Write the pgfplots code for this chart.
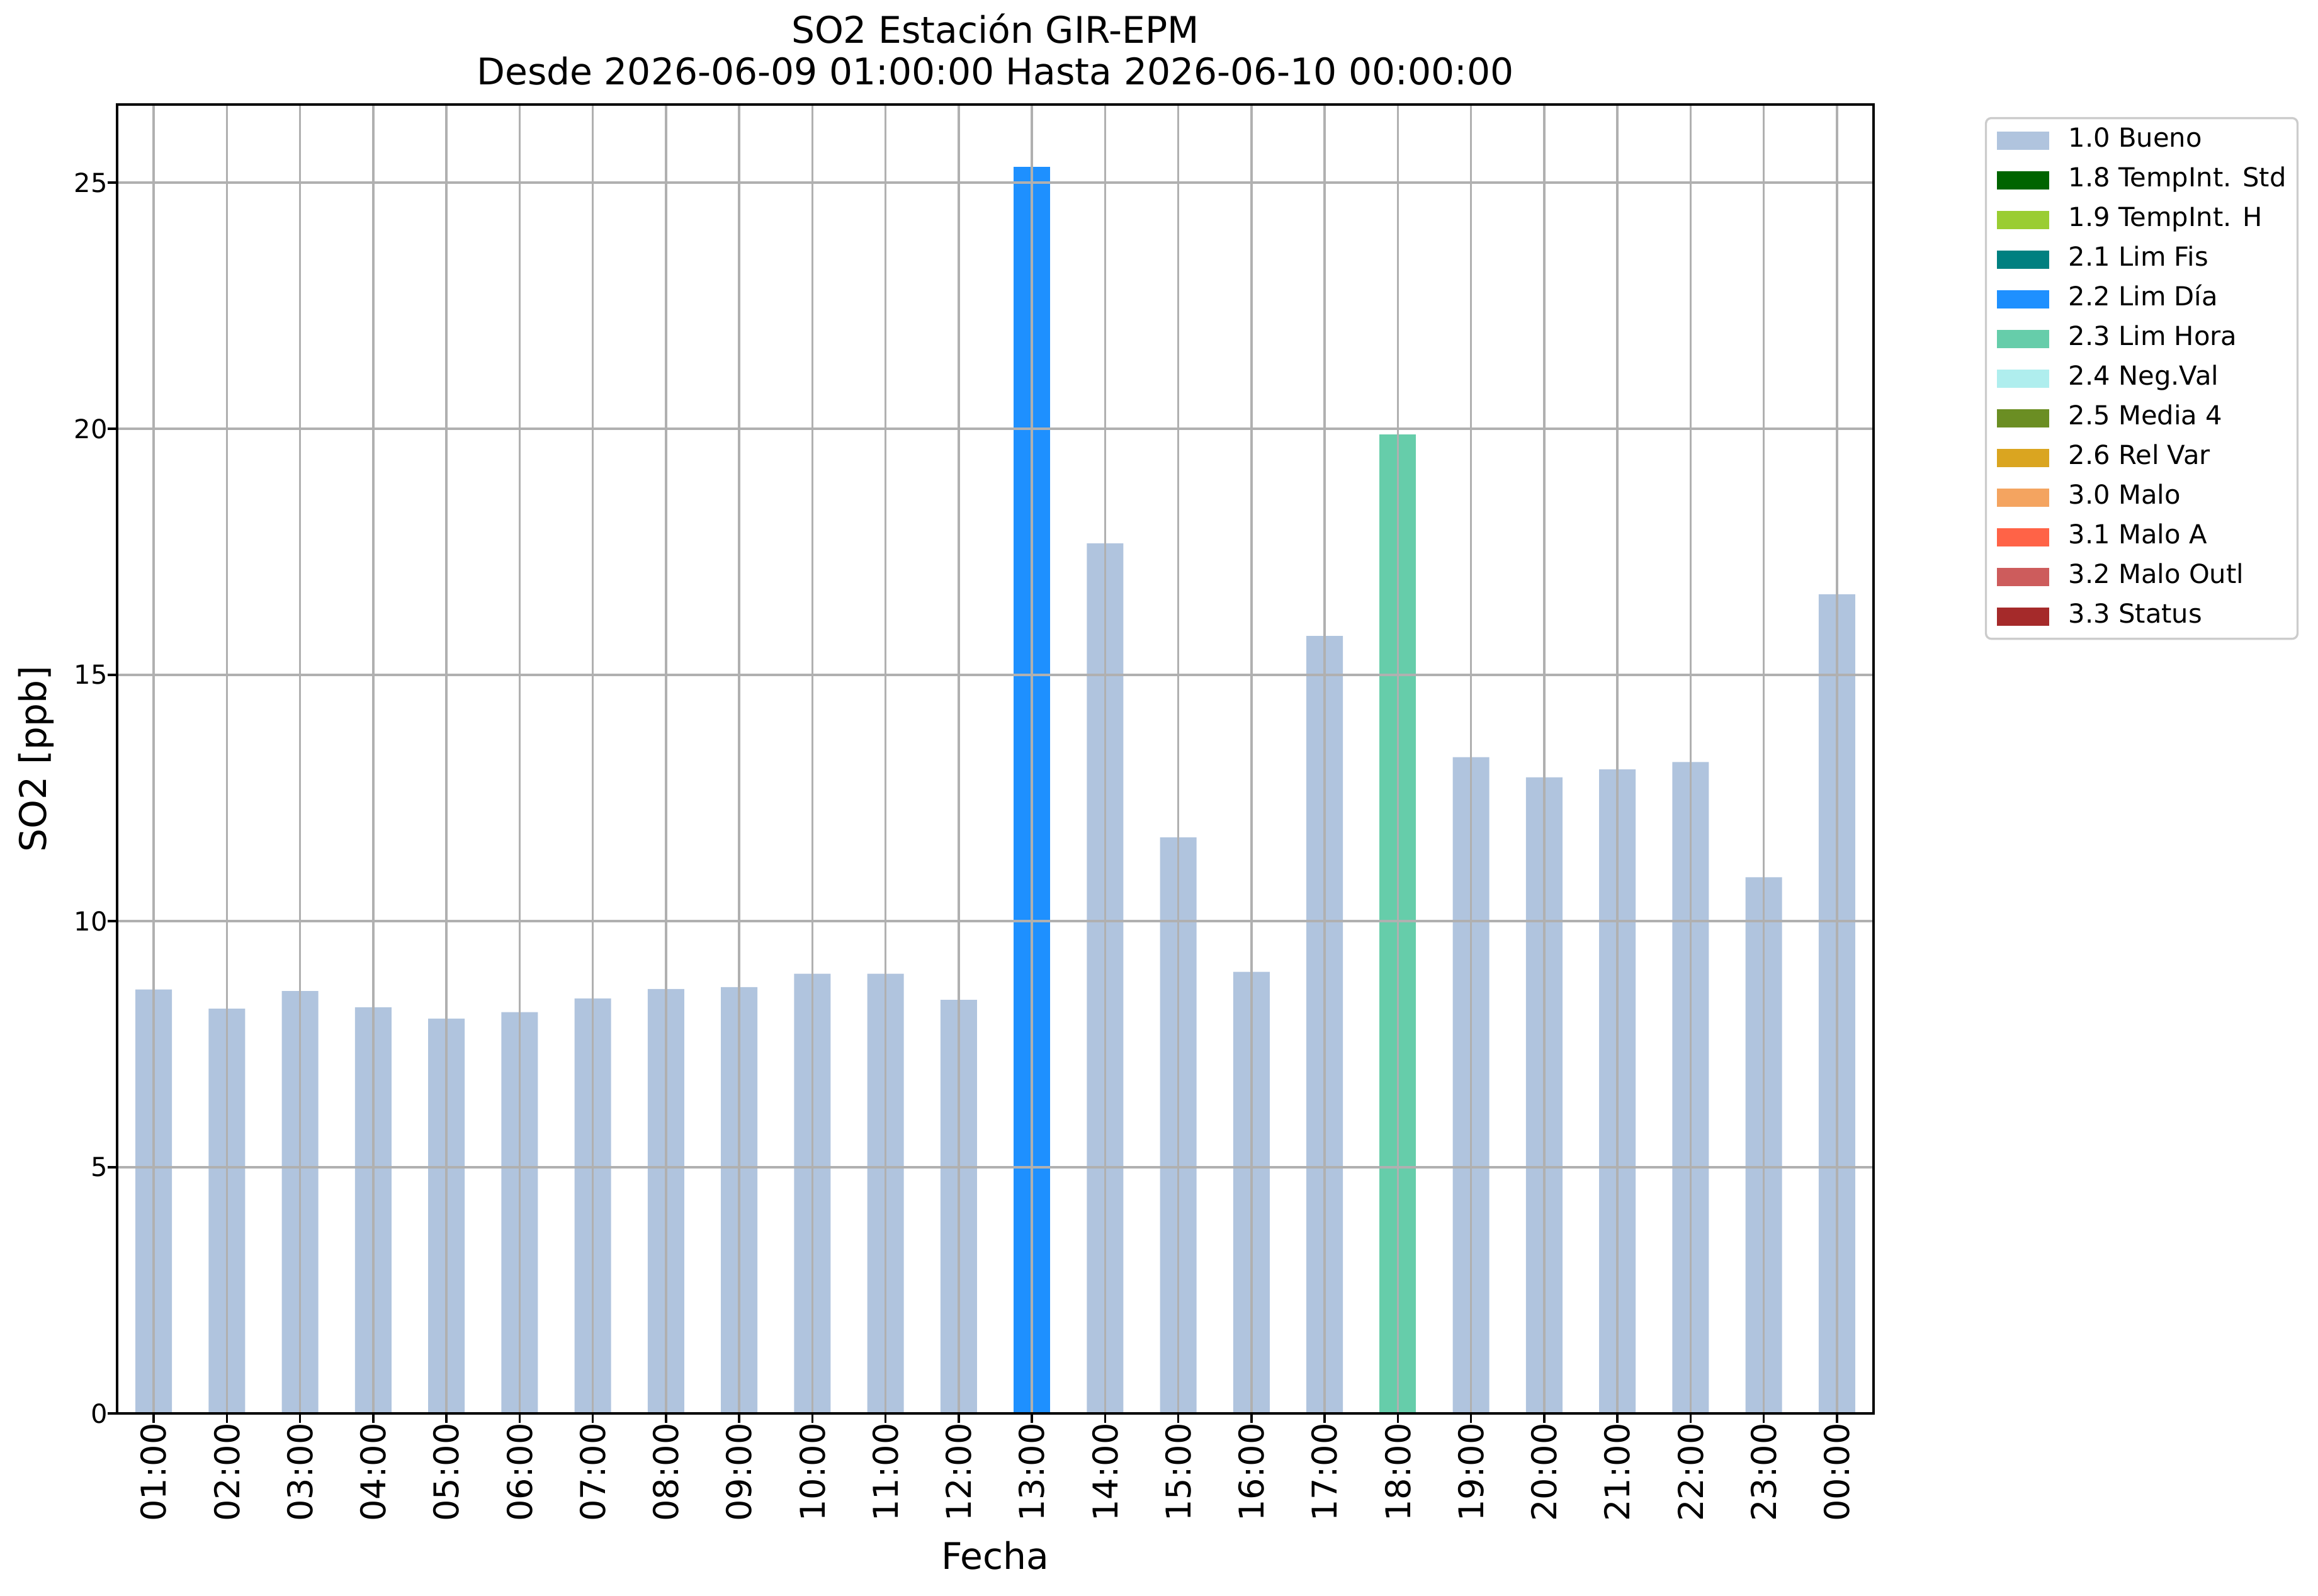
\documentclass[border=0pt]{standalone}
\usepackage{pgfplots}
\pgfplotsset{compat=1.18}
\usepackage{fontspec}
\setmainfont{DejaVu Sans}
\definecolor{bueno}{HTML}{B0C4DE}
\definecolor{tstd}{HTML}{006400}
\definecolor{th}{HTML}{9ACD32}
\definecolor{limfis}{HTML}{008080}
\definecolor{limdia}{HTML}{1E90FF}
\definecolor{limhora}{HTML}{66CDAA}
\definecolor{negval}{HTML}{AFEEEE}
\definecolor{media}{HTML}{6B8E23}
\definecolor{relvar}{HTML}{DAA520}
\definecolor{malo}{HTML}{F4A460}
\definecolor{maloa}{HTML}{FF6347}
\definecolor{maloout}{HTML}{CD5C5C}
\definecolor{status}{HTML}{A52A2A}
\definecolor{gridc}{HTML}{B0B0B0}
\definecolor{legc}{HTML}{CCCCCC}
\newcommand\xl[1]{{\fontsize{13}{15}\selectfont #1}}
\pgfplotsset{swatch/.style={legend image code/.code={\fill[##1,draw=none,sharp corners] (0pt,-3.5pt) rectangle (19.7pt,3.5pt);}}}
\begin{document}
\begin{tikzpicture}
\begin{axis}[
  at={(0,0)}, anchor=south west,
  scale only axis,
  width=669.6pt, height=498.96pt,
  xmin=-0.5, xmax=23.5, ymin=0, ymax=26.586,
  xtick={0,...,23},
  xticklabels={\xl{01:00},\xl{02:00},\xl{03:00},\xl{04:00},\xl{05:00},\xl{06:00},\xl{07:00},\xl{08:00},\xl{09:00},\xl{10:00},\xl{11:00},\xl{12:00},\xl{13:00},\xl{14:00},\xl{15:00},\xl{16:00},\xl{17:00},\xl{18:00},\xl{19:00},\xl{20:00},\xl{21:00},\xl{22:00},\xl{23:00},\xl{00:00}},
  ytick={0,5,10,15,20,25},
  /pgf/number format/assume math mode=true,
  xtick pos=bottom, ytick pos=left,
  tick align=outside,
  major tick length=3.5pt,
  every tick/.style={black, line width=0.8pt},
  axis line style={black, line width=0.8pt},
  grid=major,
  major grid style={gridc, line width=0.8pt},
  axis on top,
  xticklabel style={font=\fontsize{13}{15}\selectfont, rotate=90, anchor=east, inner sep=0pt},
  yticklabel style={font=\fontsize{10}{12}\selectfont, anchor=east, inner sep=0pt},
  title={SO2 Estación GIR-EPM\\Desde 2026-06-09 01:00:00 Hasta 2026-06-10 00:00:00},
  title style={font=\fontsize{14}{15.8}\selectfont, align=center, at={(axis description cs:0.5,1)}, anchor=south, inner sep=0pt, yshift=1.1pt},
  xlabel={Fecha},
  xlabel style={font=\fontsize{14}{16.8}\selectfont, at={(axis description cs:0.5,0)}, anchor=base, inner sep=0pt, yshift=-59.3pt},
  ylabel={SO2 [ppb]},
  ylabel style={font=\fontsize{14}{16.8}\selectfont, at={(axis description cs:-0.0405,0.5)}, anchor=base, rotate=0, inner sep=0pt},
  legend style={at={(axis description cs:1.0634,0.9904)}, anchor=north west,
    draw=legc, line width=0.8pt, rounded corners=2pt,
    inner xsep=4.3pt, inner ysep=3.77pt,
    font=\fontsize{10}{12}\selectfont,
    row sep=5.62pt, column sep=7.5pt,
    nodes={inner sep=0pt, text height=7.3pt, text depth=2.2pt}},
  legend cell align=left,
]
\addlegendimage{swatch, fill=bueno}\addlegendentry{1.0 Bueno}
\addlegendimage{swatch, fill=tstd}\addlegendentry{1.8 TempInt. Std}
\addlegendimage{swatch, fill=th}\addlegendentry{1.9 TempInt. H}
\addlegendimage{swatch, fill=limfis}\addlegendentry{2.1 Lim Fis}
\addlegendimage{swatch, fill=limdia}\addlegendentry{2.2 Lim Día}
\addlegendimage{swatch, fill=limhora}\addlegendentry{2.3 Lim Hora}
\addlegendimage{swatch, fill=negval}\addlegendentry{2.4 Neg.Val}
\addlegendimage{swatch, fill=media}\addlegendentry{2.5 Media 4}
\addlegendimage{swatch, fill=relvar}\addlegendentry{2.6 Rel Var}
\addlegendimage{swatch, fill=malo}\addlegendentry{3.0 Malo}
\addlegendimage{swatch, fill=maloa}\addlegendentry{3.1 Malo A}
\addlegendimage{swatch, fill=maloout}\addlegendentry{3.2 Malo Outl}
\addlegendimage{swatch, fill=status}\addlegendentry{3.3 Status}
\addplot[ybar, bar width=0.5, bar shift=0pt, fill=bueno, draw=none, forget plot] coordinates {
(0,8.61) (1,8.22) (2,8.58) (3,8.25) (4,8.02) (5,8.15) (6,8.43) (7,8.62) (8,8.66) (9,8.93) (10,8.93) (11,8.40)
(13,17.67) (14,11.70) (15,8.97) (16,15.79) (18,13.33) (19,12.92) (20,13.08) (21,13.23) (22,10.89) (23,16.64)};
\addplot[ybar, bar width=0.5, bar shift=0pt, fill=limdia, draw=none, forget plot] coordinates {(12,25.32)};
\addplot[ybar, bar width=0.5, bar shift=0pt, fill=limhora, draw=none, forget plot] coordinates {(17,19.89)};
\end{axis}
\pgfresetboundingbox
\useasboundingbox (-44.64pt,-69.36pt) rectangle (839.04pt,538.8pt);
\end{tikzpicture}
\end{document}
